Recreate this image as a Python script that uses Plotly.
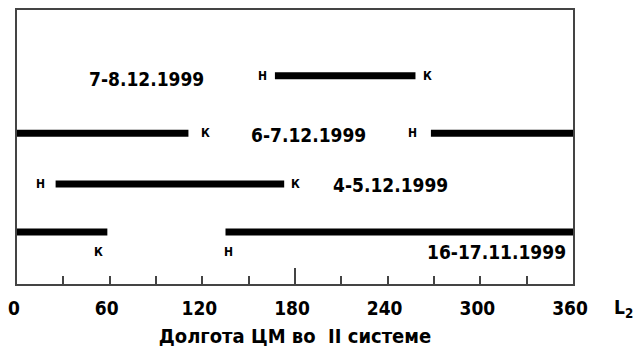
import plotly.graph_objects as go

# ---- data ----
dates = ["7-8.12.1999", "6-7.12.1999", "4-5.12.1999", "16-17.11.1999"]
start_lon = [167, 268, 25, 135]   # "Н" (начало)
end_lon = [258, 111, 173, 58.5]   # "К" (конец)
tick_vals = [0, 60, 120, 180, 240, 300, 360]
tick_text = ["0", "60", "120", "180", "240", "300", "360"]

# ---- layout helpers (positions of rows and labels) ----
row_y = [7.6, 5.5, 3.65, 1.9]
h_label_x = [159, 256, 15, 137]
k_label_x = [266, 122, 180, 53]
label_y = [7.6, 5.5, 3.65, 1.15]
date_x = [84, 189, 242, 357]
date_y = [7.5, 5.45, 3.6, 1.15]
date_anchor = ["center", "center", "center", "right"]

FONT = "DejaVu Sans Condensed, DejaVu Sans, Liberation Sans, sans-serif"

fig = go.Figure()

for i, name in enumerate(dates):
    s, e = start_lon[i], end_lon[i]
    if s < e:
        segs = [(s, e)]
    else:
        segs = [(0, e), (s, 360)]
    for a, b in segs:
        fig.add_trace(go.Scatter(
            x=[a, b], y=[row_y[i], row_y[i]], mode="lines",
            line=dict(color="#000000", width=7), showlegend=False,
            hoverinfo="skip", cliponaxis=False))

annotations = []
for i, name in enumerate(dates):
    annotations.append(dict(x=h_label_x[i], y=label_y[i], text="Н", showarrow=False,
                            xanchor="center", yanchor="middle",
                            font=dict(family=FONT, size=12, color="#000", weight="bold")))
    annotations.append(dict(x=k_label_x[i], y=label_y[i], text="К", showarrow=False,
                            xanchor="center", yanchor="middle",
                            font=dict(family=FONT, size=12, color="#000", weight="bold")))
    annotations.append(dict(x=date_x[i], y=date_y[i], text=name, showarrow=False,
                            xanchor=date_anchor[i], yanchor="middle",
                            font=dict(family=FONT, size=19, color="#000", weight="bold")))

annotations.append(dict(xref="paper", yref="paper", x=1.07, y=-0.09,
                        text="L<sub>2</sub>", showarrow=False,
                        xanchor="left", yanchor="middle",
                        font=dict(family=FONT, size=19, color="#000", weight="bold")))

# invisible trace to make the overlay axis exist
fig.add_trace(go.Scatter(x=[180], y=[0], xaxis="x2", mode="markers",
                         marker=dict(opacity=0), showlegend=False, hoverinfo="skip"))

fig.update_layout(
    width=640, height=352,
    margin=dict(l=17, r=67, t=10, b=68, autoexpand=False),
    paper_bgcolor="white", plot_bgcolor="white",
    annotations=annotations,
    xaxis=dict(
        range=[0, 360], tickvals=tick_vals, ticktext=tick_text,
        ticks="inside", ticklen=8, tickwidth=1.5, tickcolor="#444",
        minor=dict(dtick=30, tick0=0, ticks="inside", ticklen=8, tickwidth=1.5, tickcolor="#444"),
        showline=True, linecolor="#444", linewidth=2, mirror=True,
        showgrid=False, zeroline=False, automargin=False,
        tickfont=dict(family=FONT, size=19, color="#000", weight="bold"),
        ticklabelshift=-3, ticklabelstandoff=6,
        title=dict(text="Долгота ЦМ во  II системе", standoff=11,
                   font=dict(family=FONT, size=20, color="#000", weight="bold")),
    ),
    xaxis2=dict(
        range=[0, 360], overlaying="x", anchor="y", side="bottom", automargin=False,
        tickvals=[180], ticks="inside", ticklen=16, tickwidth=1.5, tickcolor="#444",
        showticklabels=False, showgrid=False, zeroline=False, showline=False,
    ),
    yaxis=dict(
        range=[0, 10], showticklabels=False, ticks="", showgrid=False, zeroline=False,
        showline=True, linecolor="#444", linewidth=2, mirror=True, automargin=False,
    ),
)

fig.write_html("out.html")
